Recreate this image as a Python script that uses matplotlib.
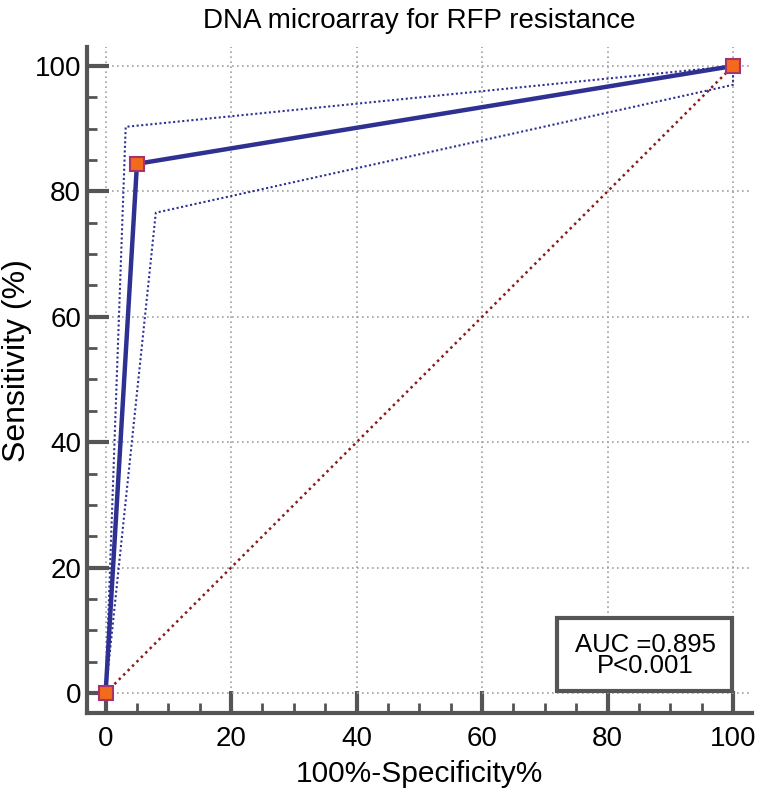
import matplotlib.pyplot as plt
from matplotlib.ticker import MultipleLocator
from matplotlib.patches import Rectangle

plt.rcParams['font.family'] = ['Liberation Sans', 'DejaVu Sans']

# ROC curve points (100-specificity, sensitivity)
roc_x = [0, 5, 100]
roc_y = [0, 84.4, 100]

# confidence bounds
upper_x = [0, 3.2, 100]
upper_y = [0, 90.3, 100]
lower_x = [0, 8.0, 100, 100]
lower_y = [0, 76.6, 97.0, 100]

auc_text = 'AUC =0.895\nP<0.001'

fig = plt.figure(figsize=(7.68, 7.92), dpi=100)
ax = fig.add_axes([0.113, 0.0997, 0.866, 0.8407])

ax.set_xlim(-3, 103)
ax.set_ylim(-3.2, 103)

ax.grid(True, color='#a0a0a0', linestyle=(0, (1, 2)), linewidth=1.2)
ax.set_axisbelow(True)

# reference diagonal
ax.plot([0, 100], [0, 100], color='#8b1a1a', linestyle=(0, (1, 1.5)), linewidth=1.8)

# confidence bounds
ax.plot(upper_x, upper_y, color='#2e3192', linestyle=(0, (1, 1.2)), linewidth=1.5)
ax.plot(lower_x, lower_y, color='#2e3192', linestyle=(0, (1, 1.2)), linewidth=1.5)

# ROC curve
ax.plot(roc_x, roc_y, color='#2e3192', linewidth=3.2, marker='s', markersize=9.5,
        markerfacecolor='#f26a1b', markeredgecolor='#a8326e', markeredgewidth=1.5,
        clip_on=False, zorder=5)

for side in ['top', 'right']:
    ax.spines[side].set_visible(False)
for side in ['left', 'bottom']:
    ax.spines[side].set_color('#555555')
    ax.spines[side].set_linewidth(3)

ax.xaxis.set_major_locator(MultipleLocator(20))
ax.yaxis.set_major_locator(MultipleLocator(20))
ax.xaxis.set_minor_locator(MultipleLocator(5))
ax.yaxis.set_minor_locator(MultipleLocator(5))
ax.tick_params(which='major', direction='in', length=16, width=3, color='#555555',
               labelsize=20, pad=4)
ax.tick_params(which='minor', direction='in', length=7, width=2, color='#555555')
ax.tick_params(axis='x', which='major', pad=9)

# AUC box
ax.add_patch(Rectangle((72, 0.3), 27.9, 11.7, facecolor='white', edgecolor='#555555',
                       linewidth=3, zorder=6))
ax.text(86, 6.0, auc_text, ha='center', va='center', fontsize=18.5, linespacing=0.85,
        zorder=7)

ax.set_title('DNA microarray for RFP resistance', fontsize=20, pad=14)
ax.set_xlabel('100%-Specificity%', fontsize=21.5, labelpad=6)
ax.set_ylabel('Sensitivity (%)', fontsize=23)
ax.yaxis.set_label_coords(-0.083, 0.53)

plt.savefig('out.png', dpi=100)
